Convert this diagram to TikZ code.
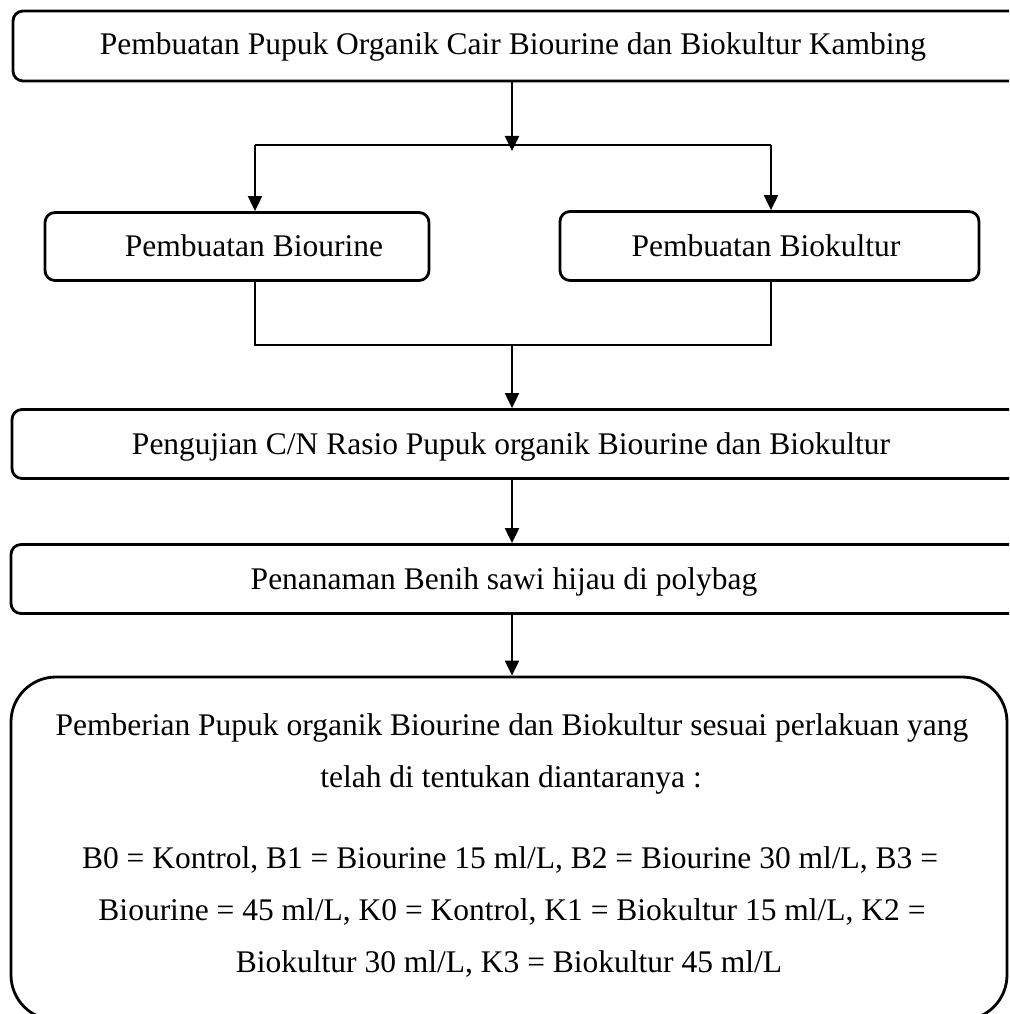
\documentclass[tikz,border=0pt]{standalone}
\usepackage{fontspec}
\setmainfont{Liberation Serif}
\usetikzlibrary{arrows.meta}
\begin{document}
\begin{tikzpicture}[x=1pt,y=-1pt,
  box/.style={draw, line width=2.8pt, rounded corners=10pt, inner sep=0pt},
  txt/.style={font=\fontsize{31.5}{38}\selectfont, inner sep=0pt, anchor=base},
  arr/.style={line width=2pt, -{Triangle[length=15pt,width=14pt]}},
  ln/.style={line width=1.6pt}]
\clip (0,0) rectangle (1009,1014);
% boxes (the wide ones run past the right edge, as in the reference)
\node[box, minimum width=1017pt, minimum height=70pt] (p1) at (521.5,46) {};
\node[box, minimum width=384pt, minimum height=68pt] (b1) at (237,246.5) {};
\node[box, minimum width=419pt, minimum height=69pt] (b2) at (769.5,246) {};
\node[box, minimum width=1018pt, minimum height=69pt] (p3) at (521,444) {};
\node[box, minimum width=1019pt, minimum height=69pt] (p4) at (520.5,579) {};
\node[box, rounded corners=45pt, minimum width=996pt, minimum height=343pt] (p5) at (509,848.5) {};
% texts
\node[txt] (t1) at (513,55) {Pembuatan Pupuk Organik Cair Biourine dan Biokultur Kambing};
\node[txt] (tb1) at (254,256) {Pembuatan Biourine};
\node[txt] (tb2) at (766,256) {Pembuatan Biokultur};
\node[txt] (t3) at (511,454) {Pengujian C/N Rasio Pupuk organik Biourine dan Biokultur};
\node[txt] (t4) at (504,589) {Penanaman Benih sawi hijau di polybag};
\node[txt] (t5a) at (512,735) {Pemberian Pupuk organik Biourine dan Biokultur sesuai perlakuan yang};
\node[txt] (t5b) at (511,787) {telah di tentukan diantaranya :};
\node[txt] (t5c) at (510,868) {B0 = Kontrol, B1 = Biourine 15 ml/L, B2 = Biourine 30 ml/L, B3 =};
\node[txt] (t5d) at (512,920) {Biourine = 45 ml/L, K0 = Kontrol, K1 = Biokultur 15 ml/L, K2 =};
\node[txt] (t5e) at (509,972) {Biokultur 30 ml/L, K3 = Biokultur 45 ml/L};
% connectors
\coordinate (a1) at (512,151);
\coordinate (l1) at (255,145);
\coordinate (r1) at (771,145);
\draw[arr] (p1.south -| a1) -- (a1);
\draw[ln] (l1) -- (r1);
\draw[arr] (l1) -- (b1.north -| l1);
\draw[arr] (r1) -- (b2.north -| r1);
\coordinate (l2) at (255,345);
\coordinate (r2) at (771,345);
\coordinate (m2) at (512,345);
\draw[ln] (b1.south -| l2) -- (l2) -- (r2) -- (b2.south -| r2);
\draw[arr] (m2) -- (p3.north -| m2);
\draw[arr] (p3.south -| m2) -- (p4.north -| m2);
\draw[arr] (p4.south -| m2) -- (p5.north -| m2);
\end{tikzpicture}
\end{document}
